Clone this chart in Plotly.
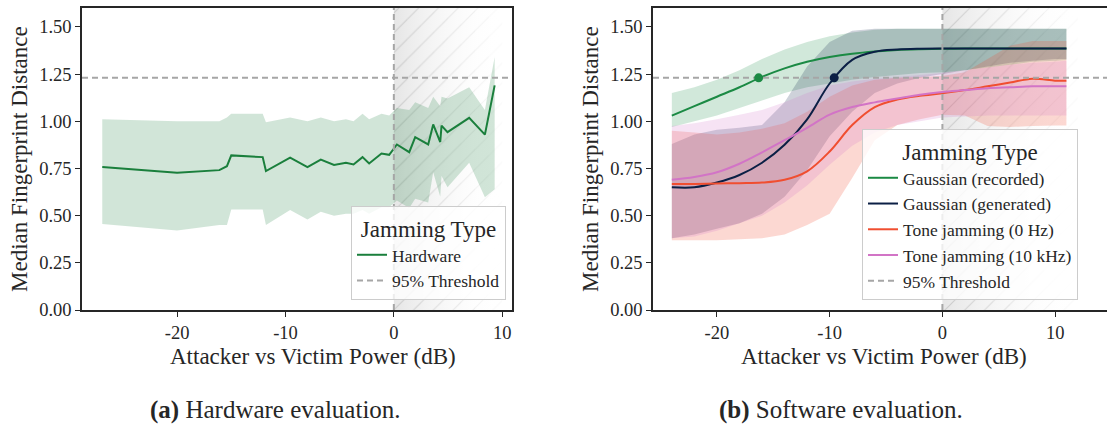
import plotly.graph_objects as go

# ---------------------------------------------------------------- data
# (a) hardware evaluation: median distance with spread band
HW_X = [-26.9, -20.0, -16.1, -15.4, -15.0, -12.1, -11.8, -9.57, -7.97, -6.74, -5.52,
        -4.42, -3.72, -2.89, -2.28, -1.14, -0.43, 0.28, 1.42, 1.97, 3.17, 3.63,
        4.28, 4.40, 4.95, 6.95, 8.4, 9.3]
HW_MED = [0.757, 0.727, 0.741, 0.762, 0.819, 0.81, 0.736, 0.807, 0.757, 0.797, 0.768,
          0.78, 0.771, 0.81, 0.776, 0.829, 0.822, 0.877, 0.836, 0.916, 0.877, 0.983,
          0.89, 0.977, 0.942, 1.018, 0.929, 1.19]
HW_UP = [1.01, 1.0, 1.0, 1.02, 1.04, 1.04, 0.995, 1.02, 1.0, 1.02, 1.0,
         1.01, 1.0, 1.04, 1.01, 1.04, 1.03, 1.07, 1.06, 1.10, 1.07, 1.13,
         1.08, 1.13, 1.12, 1.18, 1.06, 1.34]
HW_LO = [0.456, 0.421, 0.45, 0.45, 0.532, 0.532, 0.45, 0.53, 0.48, 0.52, 0.50,
         0.51, 0.51, 0.53, 0.51, 0.545, 0.545, 0.58, 0.54, 0.59, 0.57, 0.73,
         0.60, 0.71, 0.65, 0.78, 0.597, 0.64]

# (b) software evaluation
SW_X = [-24, -22, -20, -18, -16, -14, -12, -10, -8, -6, -4, -2, 0, 2, 4, 6, 8, 10, 11]

REC_MED = [1.03, 1.08, 1.13, 1.18, 1.235, 1.28, 1.315, 1.34, 1.358, 1.37, 1.378, 1.382,
           1.384, 1.385, 1.385, 1.385, 1.385, 1.385, 1.385]
REC_UP = [1.15, 1.18, 1.22, 1.27, 1.33, 1.38, 1.42, 1.45, 1.47, 1.485, 1.49, 1.49,
          1.49, 1.49, 1.49, 1.49, 1.49, 1.49, 1.49]
REC_LO = [0.97, 1.0, 1.03, 1.07, 1.11, 1.15, 1.18, 1.2, 1.22, 1.235, 1.245, 1.255,
          1.26, 1.27, 1.285, 1.3, 1.315, 1.32, 1.325]

GEN_MED = [0.65, 0.65, 0.675, 0.715, 0.78, 0.875, 1.01, 1.2, 1.325, 1.368, 1.38, 1.384,
           1.385, 1.385, 1.385, 1.385, 1.385, 1.385, 1.385]
GEN_UP = [0.88, 0.93, 0.955, 0.965, 0.98, 1.1, 1.29, 1.42, 1.48, 1.49, 1.49, 1.49,
          1.49, 1.49, 1.49, 1.49, 1.49, 1.49, 1.49]
GEN_LO = [0.38, 0.40, 0.43, 0.46, 0.51, 0.60, 0.74, 0.92, 1.05, 1.15, 1.2, 1.23,
          1.25, 1.27, 1.29, 1.31, 1.32, 1.33, 1.33]

TONE0_MED = [0.668, 0.668, 0.67, 0.672, 0.675, 0.69, 0.735, 0.84, 0.98, 1.075, 1.115, 1.135,
             1.148, 1.165, 1.185, 1.205, 1.225, 1.215, 1.215]
TONE0_UP = [0.95, 0.94, 0.93, 0.94, 0.96, 0.99, 1.05, 1.13, 1.19, 1.22, 1.23, 1.235,
            1.24, 1.26, 1.33, 1.40, 1.425, 1.425, 1.425]
TONE0_LO = [0.37, 0.37, 0.37, 0.375, 0.38, 0.40, 0.45, 0.51, 0.70, 0.90, 0.98, 1.01,
            1.035, 1.03, 0.975, 0.97, 0.975, 0.978, 0.978]

TONE10_MED = [0.69, 0.705, 0.73, 0.775, 0.835, 0.9, 0.965, 1.035, 1.075, 1.1, 1.12, 1.14,
              1.155, 1.165, 1.175, 1.18, 1.185, 1.185, 1.185]
TONE10_UP = [0.975, 0.99, 1.01, 1.035, 1.06, 1.1, 1.15, 1.19, 1.21, 1.225, 1.235, 1.245,
             1.255, 1.27, 1.285, 1.3, 1.31, 1.315, 1.32]
TONE10_LO = [0.38, 0.39, 0.42, 0.46, 0.5, 0.57, 0.66, 0.77, 0.87, 0.94, 0.98, 1.0,
             1.02, 1.025, 1.03, 1.03, 1.03, 1.03, 1.03]

THRESHOLD = 1.23
# threshold crossings (x in dB) for the two Gaussian curves
CROSS_REC = -16.3
CROSS_GEN = -9.6

X_TICKS = [-20, -10, 0, 10]
X_TICK_TEXT = ["-20", "-10", "0", "10"]
Y_TICKS = [0.0, 0.25, 0.5, 0.75, 1.0, 1.25, 1.5]

SERIES_B = [
    ("Gaussian (recorded)", REC_MED, REC_UP, REC_LO, "#1b8a44", "rgba(27,138,68,0.2)"),
    ("Gaussian (generated)", GEN_MED, GEN_UP, GEN_LO, "#0b1f45", "rgba(11,31,69,0.2)"),
    ("Tone jamming (0 Hz)", TONE0_MED, TONE0_UP, TONE0_LO, "#f04e30", "rgba(240,78,48,0.22)"),
    ("Tone jamming (10 kHz)", TONE10_MED, TONE10_UP, TONE10_LO, "#d274c6", "rgba(210,116,198,0.2)"),
]

# ---------------------------------------------------------------- layout helpers
W, H = 1107, 425
FONT = "Liberation Serif"
INK = "#262626"
GREY = "#a6a6a6"
HW_GREEN = "#1a7f3c"
CLEAR = "rgba(0,0,0,0)"

def fx(p):
    return p / W

def fy(p):
    return 1 - p / H

X_RANGE_A = [-28.77, 10.9]
X_RANGE_B = [-25.67, 14.6]
Y_RANGE = [0, 1.6]

fig = go.Figure()


def add_shade(xa, ya, x_end):
    """Grey fading region for positive power ratios, with faint hatching."""
    x0, y0, y1 = 0, Y_RANGE[0], Y_RANGE[1]
    fig.add_trace(go.Scatter(
        x=[x0, x_end, x_end, x0, x0], y=[y0, y0, y1, y1, y0],
        fill="toself", mode="none", xaxis=xa, yaxis=ya,
        fillgradient=dict(type="horizontal",
                          colorscale=[[0, "rgba(140,140,140,0.22)"],
                                      [1, "rgba(255,255,255,0)"]]),
        showlegend=False, hoverinfo="skip"))
    n = 8
    step = (x_end - x0) / n
    for i in range(n):
        a = x0 + i * step
        b = a + step
        fig.add_trace(go.Scatter(
            x=[a, b, b, a, a], y=[y0, y0, y1, y1, y0],
            fill="toself", fillcolor=CLEAR, mode="none", xaxis=xa, yaxis=ya,
            fillpattern=dict(shape="/", fgcolor="rgb(180,180,180)", bgcolor=CLEAR,
                             fgopacity=0.55 * (1 - i / n), size=14, solidity=0.08),
            showlegend=False, hoverinfo="skip"))


def add_band(x, up, lo, color, xa, ya):
    fig.add_trace(go.Scatter(
        x=list(x) + list(x)[::-1], y=list(up) + list(lo)[::-1],
        fill="toself", fillcolor=color, mode="none", line=dict(width=0),
        xaxis=xa, yaxis=ya, showlegend=False, hoverinfo="skip"))


# ---------------------------------------------------------------- panel (a)
add_shade("x", "y", 10.0)
add_band(HW_X, HW_UP, HW_LO, "rgba(26,127,60,0.2)", "x", "y")
fig.add_trace(go.Scatter(
    x=HW_X, y=HW_MED, mode="lines", name="Hardware",
    line=dict(color=HW_GREEN, width=2), xaxis="x", yaxis="y", legend="legend"))
fig.add_trace(go.Scatter(
    x=X_RANGE_A, y=[THRESHOLD, THRESHOLD], mode="lines", name="95% Threshold",
    line=dict(color=GREY, width=2, dash="6px,4px"), xaxis="x", yaxis="y", legend="legend"))

# ---------------------------------------------------------------- panel (b)
add_shade("x2", "y2", 12.0)
for name, med, up, lo, col, fcol in SERIES_B:
    add_band(SW_X, up, lo, fcol, "x2", "y2")
for name, med, up, lo, col, fcol in SERIES_B:
    fig.add_trace(go.Scatter(
        x=SW_X, y=med, mode="lines", name=name, line_shape="spline",
        line=dict(color=col, width=2), xaxis="x2", yaxis="y2", legend="legend2"))
fig.add_trace(go.Scatter(
    x=X_RANGE_B, y=[THRESHOLD, THRESHOLD], mode="lines", name="95% Threshold",
    line=dict(color=GREY, width=2, dash="6px,4px"), xaxis="x2", yaxis="y2", legend="legend2"))
fig.add_trace(go.Scatter(
    x=[CROSS_REC], y=[THRESHOLD], mode="markers", marker=dict(color=SERIES_B[0][4], size=9),
    xaxis="x2", yaxis="y2", showlegend=False, hoverinfo="skip"))
fig.add_trace(go.Scatter(
    x=[CROSS_GEN], y=[THRESHOLD], mode="markers", marker=dict(color=SERIES_B[1][4], size=9),
    xaxis="x2", yaxis="y2", showlegend=False, hoverinfo="skip"))

# vertical 0 dB markers
for xr, yr in (("x", "y domain"), ("x2", "y2 domain")):
    fig.add_shape(type="line", xref=xr, yref=yr, x0=0, x1=0, y0=0, y1=1,
                  line=dict(color=GREY, width=2, dash="6px,4px"), layer="above")

# ---------------------------------------------------------------- axes
axis_common = dict(showline=True, linecolor=INK, linewidth=1.5, ticks="outside",
                   ticklen=5, tickwidth=1.3, tickcolor=INK, showgrid=False,
                   zeroline=False, automargin=False,
                   tickfont=dict(family=FONT, size=18.5, color=INK))

fig.update_layout(
    width=W, height=H,
    margin=dict(l=0, r=0, t=0, b=0),
    paper_bgcolor="white", plot_bgcolor="white",
    font=dict(family=FONT, color=INK),
    xaxis=dict(domain=[fx(82), fx(512)], range=X_RANGE_A, tickvals=X_TICKS,
               ticktext=X_TICK_TEXT, mirror=True, anchor="y", **axis_common),
    yaxis=dict(domain=[fy(310), fy(8)], range=Y_RANGE, tickvals=Y_TICKS,
               tickformat=".2f", mirror=True, anchor="x", **axis_common),
    xaxis2=dict(domain=[fx(653), 1.0], range=X_RANGE_B, tickvals=X_TICKS,
                ticktext=X_TICK_TEXT, mirror=True, anchor="y2", **axis_common),
    yaxis2=dict(domain=[fy(310), fy(8)], range=Y_RANGE, tickvals=Y_TICKS,
                tickformat=".2f", mirror=False, anchor="x2", **axis_common),
    legend=dict(x=fx(506), xanchor="right", y=fy(300), yanchor="bottom",
                bgcolor="rgba(255,255,255,0.8)", bordercolor="#cccccc", borderwidth=1,
                font=dict(family=FONT, size=17.5, color=INK), tracegroupgap=0,
                title=dict(text="Jamming Type", side="top center",
                           font=dict(family=FONT, size=23, color=INK))),
    legend2=dict(x=fx(1078), xanchor="right", y=fy(300), yanchor="bottom",
                 bgcolor="rgba(255,255,255,0.8)", bordercolor="#cccccc", borderwidth=1,
                 font=dict(family=FONT, size=17.5, color=INK), tracegroupgap=0,
                 title=dict(text="Jamming Type", side="top center",
                            font=dict(family=FONT, size=23, color=INK))),
)

# axis titles and captions
labels = [
    ("Attacker vs Victim Power (dB)", 313, 356, 0, 23),
    ("Attacker vs Victim Power (dB)", 884, 356, 0, 23),
    ("Median Fingerprint Distance", 19, 159, -90, 23),
    ("Median Fingerprint Distance", 590, 159, -90, 23),
    ("<b>(a)</b> Hardware evaluation.", 275, 410, 0, 25),
    ("<b>(b)</b> Software evaluation.", 841, 410, 0, 25),
]
for text, px_, py_, ang, size in labels:
    fig.add_annotation(text=text, x=fx(px_), y=fy(py_), xref="paper", yref="paper",
                       xanchor="center", yanchor="middle", textangle=ang,
                       showarrow=False, font=dict(family=FONT, size=size, color=INK))

fig.write_html("out.html")
